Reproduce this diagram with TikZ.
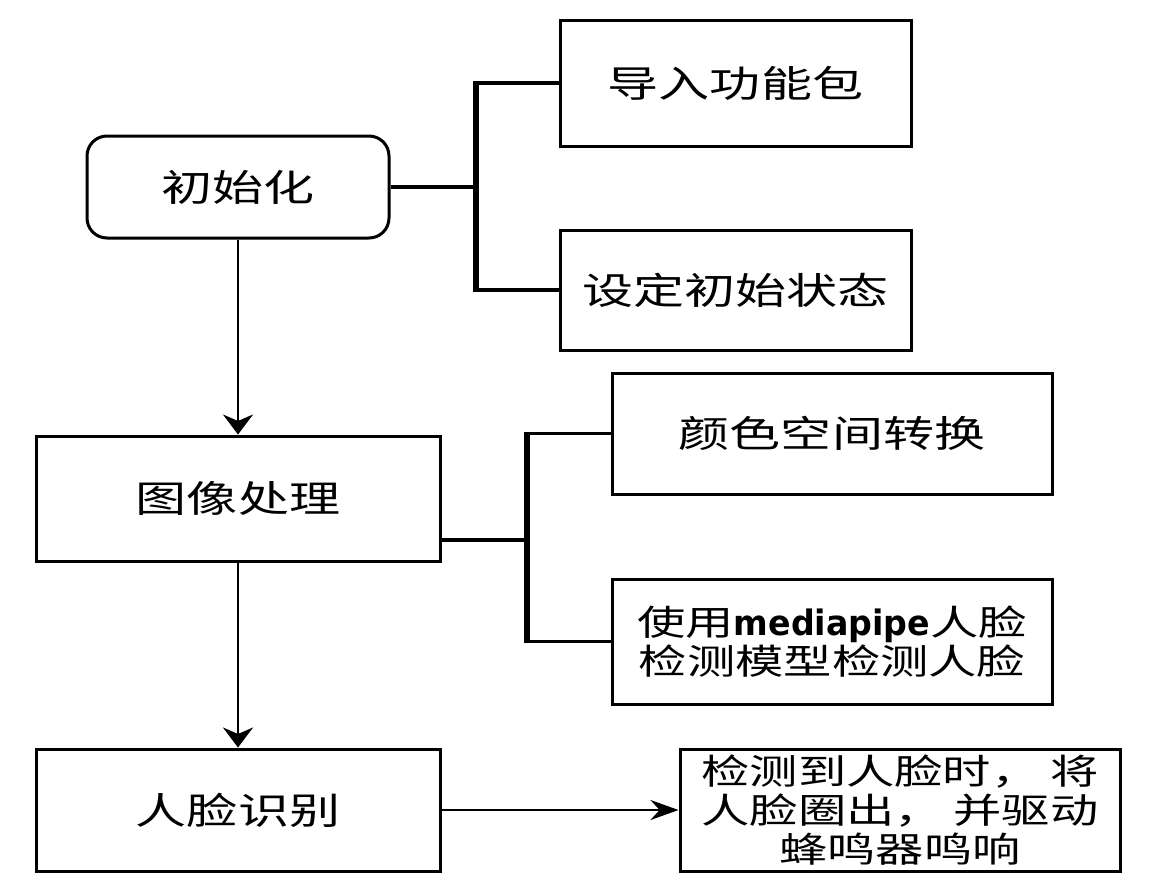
\documentclass[tikz,border=0pt]{standalone}
\usepackage{fontspec}
\newfontfamily\cjk[FakeStretch=1.38]{Noto Sans CJK SC}
\newfontfamily\latinbold[FakeStretch=0.95]{DejaVu Sans}
\usetikzlibrary{positioning, arrows.meta}

\begin{document}
\begin{tikzpicture}[node distance=1.2cm, auto,
    block/.style={rectangle, draw, line width=1.5pt, align=center, minimum width=220pt, minimum height=62pt, inner sep=0pt, font=\cjk\fontsize{18.5pt}{22pt}\selectfont},
    small/.style={font=\cjk\fontsize{17.5pt}{19.5pt}\selectfont},
    arrow/.style={-{Stealth[length=10pt, width=15pt]}, line width=1.2pt},
    harrow/.style={-{Stealth[length=14pt, width=10pt]}, line width=1.1pt},
    link/.style={line width=1.8pt},
    trunk/.style={line width=3pt, shorten <=-0.9pt, shorten >=-0.9pt}]

\useasboundingbox (0,0) rectangle (577.5pt,-444.5pt);

% Nodes
\node [block, rounded corners=10pt, minimum width=151pt, minimum height=51pt] (init) at (119pt,-93.5pt) {初始化};
\node [block, minimum width=175.5pt, minimum height=63pt, right=84pt of init, yshift=52pt] (pkg) {导入功能包};
\node [block, minimum width=175.5pt, minimum height=60pt, right=84pt of init, yshift=-51.5pt] (state) {设定初始状态};
\node [block, minimum width=202pt, minimum height=62.5pt, below=97.5pt of init] (img) {图像处理};
\node [block, minimum height=60.5pt, right=84.5pt of img, yshift=32.5pt] (color) {颜色空间转换};
\node [block, small, minimum height=62.5pt, right=84.5pt of img, yshift=-71.5pt] (mp) {使用{\latinbold\bfseries mediapipe}人脸\\检测模型检测人脸};
\node [block, minimum width=202pt, minimum height=61pt, below=92.5pt of img] (face) {人脸识别};
\node [block, small, minimum height=61pt, right=118.5pt of face] (alarm) {检测到人脸时， 将\\人脸圈出， 并驱动\\蜂鸣器鸣响};

% Arrows
\draw [arrow] (init) -- (img);
\draw [arrow] (img) -- (face);
\draw [harrow] (face) -- (alarm);

% Brackets
\draw [link] (init.east) -- ++(42.5pt,0) coordinate (fork1);
\draw [trunk] (fork1 |- pkg.west) -- (fork1 |- state.west);
\draw [link] (fork1 |- pkg.west) -- (pkg.west);
\draw [link] (fork1 |- state.west) -- (state.west);

\draw [link] ([yshift=-20.75pt]img.east) -- ++(42.5pt,0) coordinate (fork2);
\draw [trunk] (fork2 |- color.west) -- (fork2 |- mp.west);
\draw [link] (fork2 |- color.west) -- (color.west);
\draw [link] (fork2 |- mp.west) -- (mp.west);

\end{tikzpicture}
\end{document}
